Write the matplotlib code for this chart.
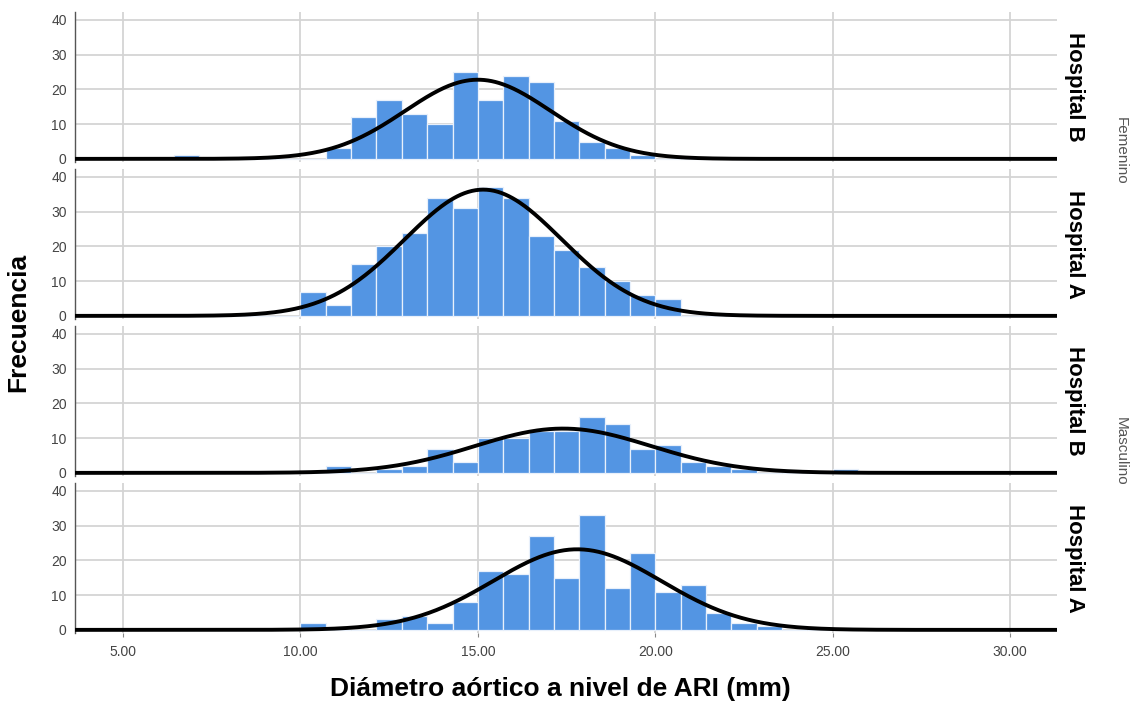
import numpy as np
import matplotlib
matplotlib.use("Agg")
import matplotlib.pyplot as plt
from matplotlib import font_manager

# ---------------- data ----------------
bin_width = 5 / 7
first_bin_left = 10 - 5 * bin_width   # 6.43
n_bins = 27

panel_rows = ["Hospital B", "Hospital A", "Hospital B", "Hospital A"]
sex_groups = ["Femenino", "Masculino"]

counts_fem_b = [1, 0, 0, 0, 0, 0, 3, 12, 17, 13, 10, 25, 17, 24, 22, 11, 5, 3, 1, 0, 0, 0, 0, 0, 0, 0, 0]
counts_fem_a = [0, 0, 0, 0, 0, 7, 3, 15, 20, 24, 34, 31, 37, 34, 23, 19, 14, 10, 6, 5, 0, 0, 0, 0, 0, 0, 0]
counts_mas_b = [0, 0, 0, 0, 0, 0, 2, 0, 1, 2, 7, 3, 10, 10, 12, 12, 16, 14, 7, 8, 3, 2, 1, 0, 0, 0, 1]
counts_mas_a = [0, 0, 0, 0, 0, 2, 0, 0, 3, 4, 2, 8, 17, 16, 27, 15, 33, 12, 22, 11, 13, 5, 2, 1, 0, 0, 0]

# fitted normal curve parameters (mean, sd)
curve_means = [15.0, 15.15, 17.4, 17.8]
curve_sds = [2.05, 2.21, 2.48, 2.37]

x_ticks = [5, 10, 15, 20, 25, 30]
x_tick_labels = ["5.00", "10.00", "15.00", "20.00", "25.00", "30.00"]
y_ticks = [0, 10, 20, 30, 40]

x_label = "Diámetro aórtico a nivel de ARI (mm)"
y_label = "Frecuencia"

# ---------------- style ----------------
avail = {f.name for f in font_manager.fontManager.ttflist}
narrow = "Liberation Sans Narrow" if "Liberation Sans Narrow" in avail else "Liberation Sans"
plt.rcParams["font.family"] = ["Liberation Sans", "DejaVu Sans"]

W, H = 1138, 703
fig = plt.figure(figsize=(W / 100, H / 100), dpi=100)

bar_color = "#5395E3"
grid_color = "#d4d4d4"

left_px, right_px = 75, 1057
panel_h = 150
gap = 7
top0 = 12
xlim = (3.647, 31.32)
ylim = (-0.9, 42.3)

all_counts = [counts_fem_b, counts_fem_a, counts_mas_b, counts_mas_a]
edges = first_bin_left + bin_width * np.arange(n_bins)
xs = np.linspace(xlim[0], xlim[1], 800)

axes = []
for i, counts in enumerate(all_counts):
    top = top0 + i * (panel_h + gap)
    bottom = top + panel_h
    ax = fig.add_axes([left_px / W, 1 - bottom / H, (right_px - left_px) / W, panel_h / H])
    axes.append(ax)
    ax.set_xlim(*xlim)
    ax.set_ylim(*ylim)
    ax.set_axisbelow(True)
    for xv in x_ticks:
        ax.axvline(xv, color=grid_color, lw=1.3, zorder=0)
    for yv in y_ticks:
        ax.axhline(yv, color=grid_color, lw=1.3, zorder=0)
    ax.bar(edges, counts, width=bin_width, align="edge", color=bar_color,
           edgecolor="#e8f0fb", linewidth=0.9, zorder=2)
    n = sum(counts)
    mu, sd = curve_means[i], curve_sds[i]
    ys = n * bin_width * np.exp(-0.5 * ((xs - mu) / sd) ** 2) / (sd * np.sqrt(2 * np.pi))
    ax.plot(xs, ys, color="black", lw=2.8, zorder=3, solid_capstyle="butt")
    for s in ["top", "right", "bottom"]:
        ax.spines[s].set_visible(False)
    ax.spines["left"].set_color("#555555")
    ax.spines["left"].set_linewidth(1.0)
    ax.set_yticks(y_ticks)
    ax.set_yticklabels([str(v) for v in y_ticks], fontsize=10, color="#444444",
                       family=[narrow, "DejaVu Sans"])
    ax.tick_params(axis="y", length=0, pad=6)
    ax.set_xticks(x_ticks)
    if i < 3:
        ax.tick_params(axis="x", length=0, labelbottom=False)
    else:
        ax.set_xticklabels(x_tick_labels, fontsize=10, color="#444444",
                           family=[narrow, "DejaVu Sans"])
        ax.tick_params(axis="x", length=3, color="#888888", pad=6)
    # right-side row label
    yc = 1 - (top + panel_h / 2) / H
    fig.text(1075 / W, yc, panel_rows[i], rotation=-90, ha="center", va="center",
             fontsize=16, fontweight="bold", color="black")

# sex group labels
fig.text(1121 / W, 1 - 151 / H, sex_groups[0], rotation=-90, ha="center", va="center",
         fontsize=11, color="#555555", family=[narrow, "DejaVu Sans"])
fig.text(1121 / W, 1 - 451 / H, sex_groups[1], rotation=-90, ha="center", va="center",
         fontsize=11, color="#555555", family=[narrow, "DejaVu Sans"])

fig.text(18 / W, 1 - 322 / H, y_label, rotation=90, ha="center", va="center",
         fontsize=19, fontweight="bold", color="black")
fig.text((left_px + right_px) / 2 / W - 0.005, 1 - 689 / H, x_label, ha="center", va="center",
         fontsize=19, fontweight="bold", color="black")

fig.savefig("out.png", dpi=100)
